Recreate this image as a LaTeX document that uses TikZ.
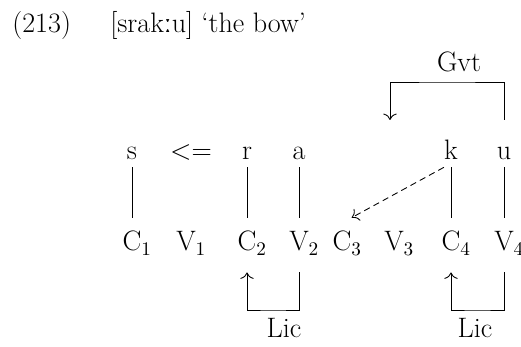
\documentclass[tikz,border=0pt]{standalone}
\usepackage{fontspec}
\usetikzlibrary{arrows.meta}
\newfontfamily\ipafont{Liberation Serif}

\begin{document}
\begin{tikzpicture}[
  x=0.02cm, y=-0.02cm,
  >={To[scale=1.35]},
  font=\fontsize{16}{19}\selectfont,
  title/.style={anchor=base west, inner sep=0pt},
  segment/.style={anchor=base, inner xsep=0pt, inner ysep=4pt, text height=18.8pt, text depth=0pt},
  slot/.style={anchor=base, inner xsep=0pt, inner ysep=4pt, text height=14.8pt, text depth=8pt},
  relname/.style={anchor=base, inner sep=0pt},
  assoc/.style={line width=0.5pt},
  arrow/.style={->, line width=0.5pt},
  govarrow/.style={->, line width=0.5pt, dash pattern=on 3.6pt off 2.4pt}
]
\useasboundingbox (0,0) rectangle (521,347);

\node[title] (exno) at (12,33) {(213)};
\node[title] (gloss) at (110,33) {[srak{\ipafont ː}u] ‘the bow’};

% melody
\node[segment] (s) at (132,160) {s};
\node[segment] (shift) at (191,160) {<=};
\node[segment] (r) at (247,160) {r};
\node[segment] (a) at (299,160) {a};
\node[segment] (k) at (451,160) {k};
\node[segment] (u) at (504,160) {u};

% skeleton
\node[slot] (c1) at (132,251) {C\rlap{$_1$}};
\node[slot] (v1) at (186,251) {V\rlap{$_1$}};
\node[slot] (c2) at (247,251) {C\rlap{$_2$}};
\node[slot] (v2) at (299,251) {V\rlap{$_2$}};
\node[slot] (c3) at (342,251) {C\rlap{$_3$}};
\node[slot] (v3) at (394,251) {V\rlap{$_3$}};
\node[slot] (c4) at (451,251) {C\rlap{$_4$}};
\node[slot] (v4) at (504,251) {V\rlap{$_4$}};

\draw[assoc] (s.south) -- (c1.north);
\draw[assoc] (r.south) -- (c2.north);
\draw[assoc] (a.south) -- (v2.north);
\draw[assoc] (k.south) -- (c4.north);
\draw[assoc] (u.south) -- (v4.north);
\draw[govarrow] (k.south west) -- (c3.north east);

% government
\coordinate (gvtbar) at (447,82);
\coordinate (gvtend) at (390,120);
\draw[arrow] (u.north) |- (gvtbar) -| (gvtend);
\node[relname] (gvt) at (459,72) {Gvt};

% licensing
\coordinate (licone) at (273,310);
\coordinate (lictwo) at (477,310);
\draw[arrow] (v2.south) |- (licone) -| (c2.south);
\draw[arrow] (v4.south) |- (lictwo) -| (c4.south);
\node[relname] (licA) at (284,338) {Lic};
\node[relname] (licB) at (475,338) {Lic};
\end{tikzpicture}
\end{document}
